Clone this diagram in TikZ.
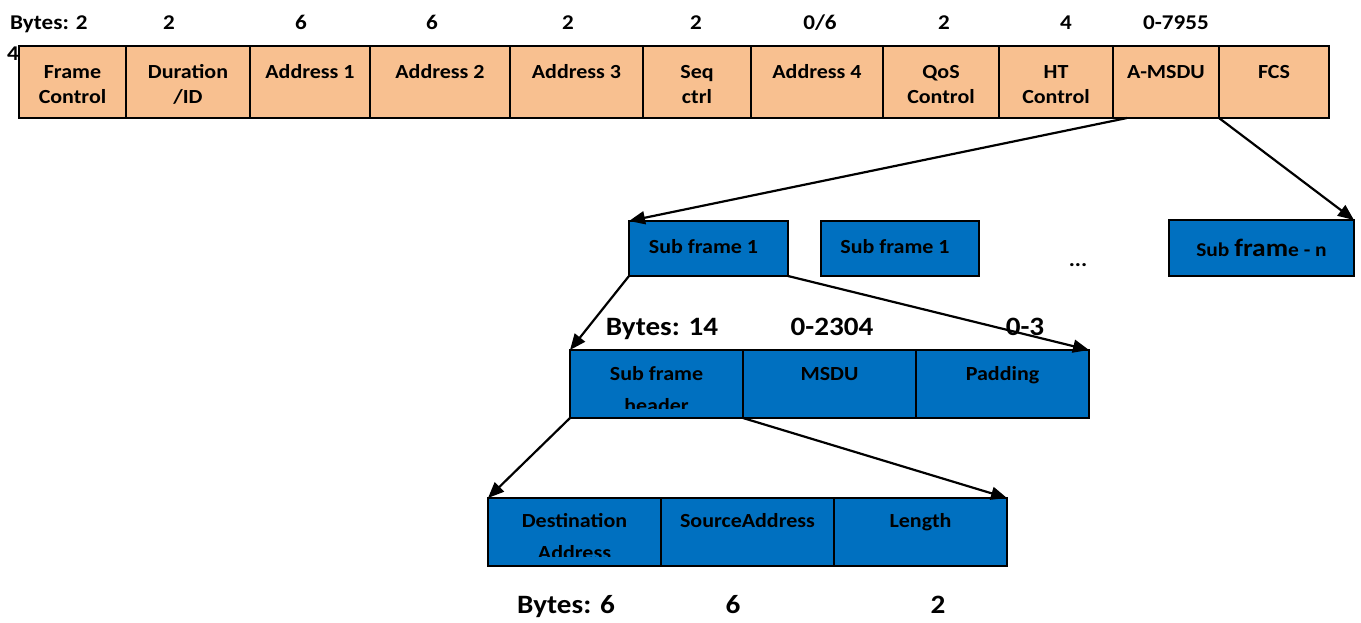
\documentclass[tikz,border=0pt]{standalone}
\usepackage{fontspec}
\setmainfont{Carlito}[FakeStretch=1.1]
\usetikzlibrary{arrows.meta,calc}
\definecolor{peach}{HTML}{F8C090}
\definecolor{mblue}{HTML}{0070C0}
\newcommand{\firstln}{\rule{0pt}{15pt}}
\tikzset{
 cellbase/.style={draw=black, line width=1.5pt, inner sep=0pt, outer sep=0pt, anchor=north west},
 topcell/.style={cellbase, fill=peach},
 bluecell/.style={cellbase, fill=mblue, font=\bfseries\fontsize{20}{25}\selectfont},
 celltext/.style={font=\bfseries\fontsize{20}{25}\selectfont, align=center, inner sep=0pt, anchor=north},
 sftext/.style={font=\bfseries\fontsize{20}{25}\selectfont, inner sep=0pt, anchor=center},
 toplbl/.style={font=\bfseries\fontsize{21}{25}\selectfont, inner sep=0pt, anchor=base},
 biglbl/.style={font=\bfseries\fontsize{26.5}{32}\selectfont, inner sep=0pt, anchor=base},
 arr/.style={draw=black, line width=2.2pt, -{Triangle[length=16pt,width=13pt]}}
}
\begin{document}
\begin{tikzpicture}[x=1pt,y=-1pt]
\useasboundingbox (0,0) rectangle (1361,622);
\node[toplbl, anchor=base west] (four) at (7,60) {4};
\foreach \n/\a/\b/\t in {fc/19/126/{Frame\\Control}, dur/126/250/{Duration\\/ID}, ad1/250/370/{Address 1}, ad2/370/510/{Address 2}, ad3/510/643/{Address 3}, seq/643/751/{Seq\\ctrl}, ad4/751/883/{Address 4}, qos/883/999/{QoS\\Control}, ht/999/1113/{HT\\Control}, amsdu/1113/1219/{A-MSDU}, fcs/1219/1329/{FCS}}
{
  \node[topcell, minimum width={(\b-\a)*1pt}, minimum height=72pt] (\n) at (\a,46) {};
  \node[celltext] (\n-t) at ([yshift=-17pt]\n.north) {\firstln\t};
}
% top byte labels
\node[toplbl, anchor=base west] (tb0) at (10,29) {Bytes: 2};
\node[toplbl] (tb1) at (169,29) {2};
\node[toplbl] (tb2) at (301,29) {6};
\node[toplbl] (tb3) at (432,29) {6};
\node[toplbl] (tb4) at (568,29) {2};
\node[toplbl] (tb5) at (696,29) {2};
\node[toplbl] (tb6) at (820,29) {0/6};
\node[toplbl] (tb7) at (944,29) {2};
\node[toplbl] (tb8) at (1066,29) {4};
\node[toplbl] (tb9) at (1176,29) {0-7955};
% sub frames
\node[bluecell, minimum width=159pt, minimum height=55pt] (sf1) at (629,221) {};
\node[sftext] (sf1-t) at ([xshift=-5pt,yshift=2pt]sf1.center) {Sub frame 1};
\node[bluecell, minimum width=158pt, minimum height=55pt] (sf2) at (821,221) {};
\node[sftext] (sf2-t) at ([xshift=-5pt,yshift=2pt]sf2.center) {Sub frame 1};
\node[bluecell, minimum width=185pt, minimum height=56pt] (sfn) at (1169,220) {\fontsize{19.5}{22}\selectfont Sub \fontsize{25}{28}\selectfont fram\fontsize{19.5}{22}\selectfont e - n};
\node[toplbl] (dots) at (1078,266) {...};
% row 3
\foreach \n/\a/\b/\t in {rc/916/1089/{Padding}, rb/743/916/{MSDU}}
{
  \node[bluecell, minimum width={(\b-\a)*1pt}, minimum height=68pt] (\n) at (\a,350) {};
  \node[celltext] (\n-t) at ([yshift=-15pt]\n.north) {\firstln\t};
}
\node[bluecell, minimum width=173pt, minimum height=68pt] (ra) at (570,350) {};
\begin{scope}
  \clip (ra.north west) rectangle ([yshift=10pt]ra.south east);
  \node[celltext] (ra-t) at ([yshift=-15pt]ra.north) {\firstln Sub frame\\[7pt]header};
\end{scope}
\node[biglbl] (m0) at (662,335) {Bytes: 14};
\node[biglbl] (m1) at (832,335) {0-2304};
\node[biglbl] (m2) at (1025,335) {0-3};
% row 4
\foreach \n/\a/\b/\t in {dc/834/1007/{Length}, db/661/834/{SourceAddress}}
{
  \node[bluecell, minimum width={(\b-\a)*1pt}, minimum height=68pt] (\n) at (\a,498) {};
  \node[celltext] (\n-t) at ([yshift=-14pt]\n.north) {\firstln\t};
}
\node[bluecell, minimum width=173pt, minimum height=68pt] (da) at (488,498) {};
\begin{scope}
  \clip (da.north west) rectangle ([yshift=10pt]da.south east);
  \node[celltext] (da-t) at ([yshift=-14pt]da.north) {\firstln Destination\\[7pt]Address};
\end{scope}
\node[biglbl] (l0) at (566,613) {Bytes: 6};
\node[biglbl] (l1) at (733,613) {6};
\node[biglbl] (l2) at (938,613) {2};
% arrows
\draw[arr] ([xshift=14pt]amsdu.south west) -- (sf1.north west);
\draw[arr] (fcs.south west) -- (sfn.north east);
\draw[arr] (sf1.south west) -- (ra.north west);
\draw[arr] (sf1.south east) -- (rc.north east);
\draw[arr] (ra.south west) -- (da.north west);
\draw[arr] (ra.south east) -- (dc.north east);
\end{tikzpicture}
\end{document}
